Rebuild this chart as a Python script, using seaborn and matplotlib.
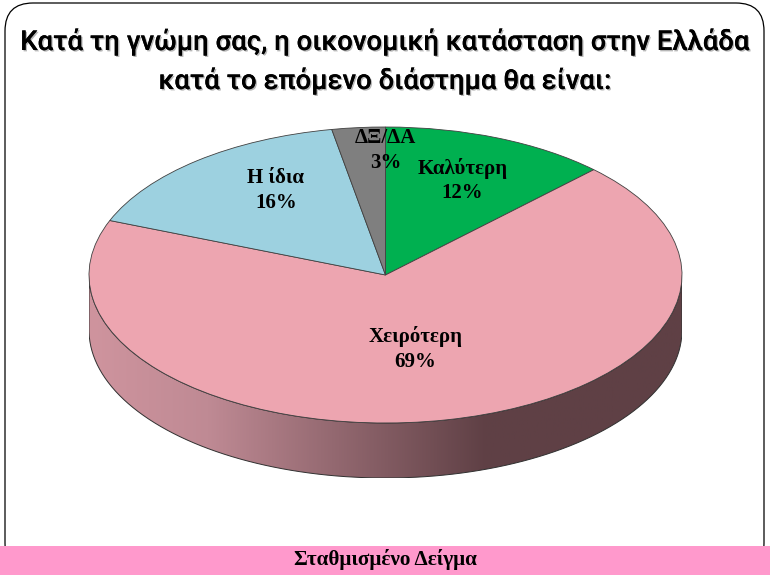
import matplotlib

matplotlib.use("Agg")
import matplotlib.patheffects as pe
import matplotlib.pyplot as plt
import numpy as np
import seaborn as sns
from matplotlib.colors import LinearSegmentedColormap
from matplotlib.patches import FancyBboxPatch, PathPatch, Rectangle
from matplotlib.path import Path

# Data
categories = ["Καλύτερη", "Χειρότερη", "Η ίδια", "ΔΞ/ΔΑ"]
shares = [12.4, 68.6, 16.1, 2.9]  # slice sizes as drawn
share_labels = ["12%", "69%", "16%", "3%"]
slice_colors = ["#00b050", "#eda5b0", "#9dd1e0", "#7f7f7f"]
title_lines = [
    "Κατά τη γνώμη σας, η οικονομική κατάσταση στην Ελλάδα",
    "κατά το επόμενο διάστημα θα είναι:",
]
footer = "Σταθμισμένο Δείγμα"

W, H = 770, 575
sns.set_theme(style="white")
fig = plt.figure(figsize=(W / 100, H / 100), dpi=100, facecolor="white")

# Background layer in pixel coordinates
bg = fig.add_axes([0, 0, 1, 1])
bg.set_xlim(0, W)
bg.set_ylim(H, 0)
bg.axis("off")
bg.add_patch(
    FancyBboxPatch(
        (5, 3), 759, 568, boxstyle="round,pad=0,rounding_size=28",
        facecolor="white", edgecolor="black", linewidth=0.9,
    )
)
bg.add_patch(Rectangle((0, 546), W, 29, facecolor="#ff99cc", edgecolor="none", zorder=3))
bg.text(385, 560, footer, ha="center", va="center", fontsize=15.2, fontweight="bold",
        family="Liberation Serif", color="black", zorder=4)

shadow = [pe.withSimplePatchShadow(offset=(1, -1), shadow_rgbFace="#999999", alpha=0.7), pe.Normal()]
for y, line in zip([42, 81], title_lines):
    bg.text(385, y, line, ha="center", va="center", fontsize=19.8, fontweight="medium",
            family="Roboto", color="black", path_effects=shadow)

# Squashed pie: one unit is 296 px across and 148 px down
depth = 55 / 148
left, right, top, bottom = 89, 682, 127, 423 + 55
ax = fig.add_axes([left / W, 1 - bottom / H, (right - left) / W, (bottom - top) / H])
ax.patch.set_alpha(0)

wedges, _ = ax.pie(
    shares, colors=slice_colors, startangle=90, counterclock=False, radius=1,
    wedgeprops={"edgecolor": "#404040", "linewidth": 0.6, "zorder": 3},
)
ax.set_aspect("auto")

# Side wall with a horizontal gradient
t = np.linspace(np.pi, 2 * np.pi, 200)
xs = np.cos(t)
ys = np.sin(t)
verts = np.r_[np.c_[xs, ys], np.c_[xs[::-1], ys[::-1] - depth], [[xs[0], ys[0]]]]
wall = PathPatch(Path(verts), facecolor="none", edgecolor="#303030", linewidth=0.7, zorder=2)
ax.add_patch(wall)
cmap = LinearSegmentedColormap.from_list(
    "wall", [(0, "#cf949e"), (0.2, "#bf8a94"), (0.67, "#5f4045"), (1, "#5f4045")]
)
img = ax.imshow(
    np.linspace(0, 1, 256)[None, :], cmap=cmap, extent=(-1, 1, -1 - depth, 1),
    aspect="auto", zorder=1,
)
img.set_clip_path(wall)
ax.set_xlim(-1, 1)
ax.set_ylim(-1 - depth, 1)

# Slice labels
label_xy = [(0.26, 0.64), (0.10, -0.50), (-0.37, 0.57), (0.0, 0.84)]
for name, share, (x, y) in zip(categories, share_labels, label_xy):
    ax.text(x, y, f"{name}\n{share}", ha="center", va="center", fontsize=15,
            fontweight="bold", family="Liberation Serif", color="black", zorder=5,
            linespacing=1.3)

fig.savefig("out.png", dpi=100)
